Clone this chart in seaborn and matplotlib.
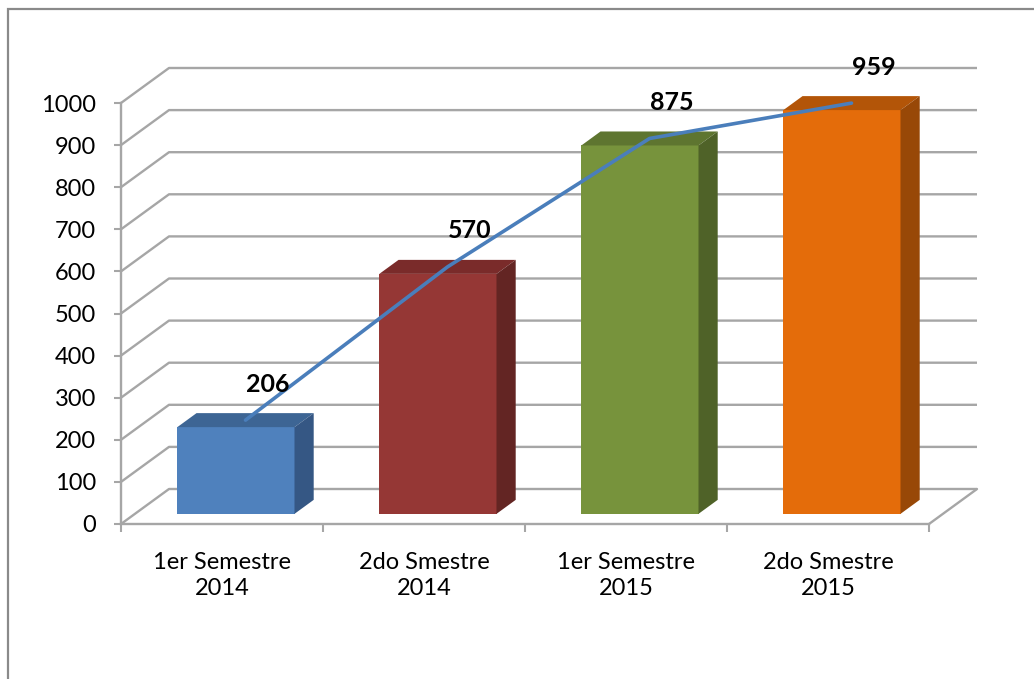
import pandas as pd
import matplotlib.pyplot as plt
from matplotlib.patches import Polygon, Rectangle
import seaborn as sns

# Datos del grafico
periodos = ['1er Semestre\n2014', '2do Smestre\n2014', '1er Semestre\n2015', '2do Smestre\n2015']
valores = [206, 570, 875, 959]
marcas_y = list(range(0, 1001, 100))

# Colores de cada barra: cara frontal, tapa y lateral
frente = ['#4F81BD', '#953735', '#77933C', '#E46C0A']
tapa = ['#3D6594', '#7A2B2A', '#5E7530', '#B35508']
lado = ['#355784', '#632523', '#4F6228', '#984807']
gris = '#A6A6A6'

sns.set_theme(style='white')
plt.rcParams['font.family'] = ['Lato', 'DejaVu Sans']

W, H = 1034, 679
fig = plt.figure(figsize=(W / 100, H / 100), dpi=100)
ax = fig.add_axes([121 / W, (H - 524) / H, 808 / W, 421 / H])

# profundidad del efecto 3D en unidades de datos
px_x = 808 / 4
px_y = 421 / 1000
DX, DY = 48 / px_x, 35 / px_y
d0, db = 0.29, 0.4

df = pd.DataFrame({'periodo': periodos, 'valor': valores})
sns.barplot(data=df, x='periodo', y='valor', hue='periodo', palette=frente,
            saturation=1, width=0.58, linewidth=0, legend=False, ax=ax, zorder=3)
ax.set_xlim(-0.5, 3.5)
ax.set_ylim(0, 1000)
ax.set_xlabel('')
ax.set_ylabel('')

# paredes: lineas de division en la pared izquierda y del fondo
for t in marcas_y:
    ax.plot([-0.5, -0.5 + DX, 3.5 + DX], [t, t + DY, t + DY], color=gris,
            lw=1.7, clip_on=False, zorder=1, solid_capstyle='butt')
ax.plot([3.5, 3.5 + DX], [0, DY], color=gris, lw=1.7, clip_on=False, zorder=1)

# barras en 3D: desplazar cara frontal y agregar tapa y lateral
barras = sorted(ax.patches, key=lambda p: p.get_x())
bdx, bdy = db * DX, db * DY
for i, p in enumerate(barras):
    x0 = p.get_x() + d0 * DX
    y0 = d0 * DY
    w, h = p.get_width(), p.get_height()
    p.set_x(x0)
    p.set_y(y0)
    p.set_clip_on(False)
    top = Polygon([(x0, y0 + h), (x0 + w, y0 + h), (x0 + w + bdx, y0 + h + bdy),
                   (x0 + bdx, y0 + h + bdy)], closed=True, facecolor=tapa[i],
                  lw=0, clip_on=False, zorder=3)
    side = Polygon([(x0 + w, y0), (x0 + w + bdx, y0 + bdy), (x0 + w + bdx, y0 + h + bdy),
                    (x0 + w, y0 + h)], closed=True, facecolor=lado[i],
                   lw=0, clip_on=False, zorder=3)
    ax.add_patch(top)
    ax.add_patch(side)

# linea que une las tapas de las barras
lx = [i + (d0 + db / 2) * DX for i in range(len(valores))]
ly = [v + (d0 + db / 2) * DY for v in valores]
ax.plot(lx, ly, color='#4A7EBB', lw=2.6, clip_on=False, zorder=4)

for x, y, v in zip(lx, ly, valores):
    ax.annotate(str(v), (x, y), xytext=(22, 36), textcoords='offset pixels',
                ha='center', va='center', fontsize=18, fontweight='bold',
                color='black', annotation_clip=False, zorder=5)

# ejes
for s in ['top', 'right']:
    ax.spines[s].set_visible(False)
for s in ['left', 'bottom']:
    ax.spines[s].set_color(gris)
    ax.spines[s].set_linewidth(1.7)
    ax.spines[s].set_zorder(1)

ax.set_yticks(marcas_y)
ax.tick_params(axis='y', left=True, length=5, width=1.5, color=gris, pad=13,
               labelsize=17, labelcolor='black')
ax.set_xticks([-0.5, 0.5, 1.5, 2.5, 3.5], [''] * 5)
ax.set_xticks(range(len(periodos)), periodos, minor=True)
ax.tick_params(axis='x', which='major', bottom=True, length=6, width=1.5, color=gris)
ax.tick_params(axis='x', which='minor', bottom=True, length=0, pad=20,
               labelsize=17, labelcolor='black')
for lbl in ax.get_xticklabels(minor=True):
    lbl.set_linespacing(1.3)

# marco exterior
fig.patches.append(Rectangle((8 / W, -0.1), 1.2, 1.1 - 9 / H, transform=fig.transFigure,
                             fill=False, edgecolor='#8A8A8A', lw=1.6))

fig.savefig('out.png', dpi=100, facecolor='white')
